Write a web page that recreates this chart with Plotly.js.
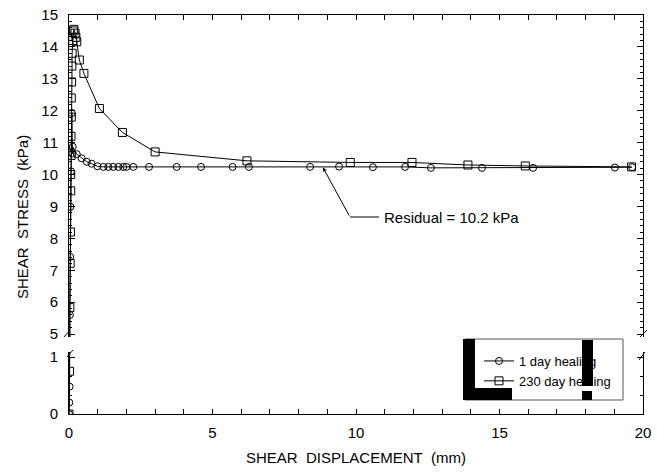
<!DOCTYPE html>
<html>
<head>
<meta charset="utf-8">
<script src="https://cdn.plot.ly/plotly-3.0.1.min.js"></script>
<style>html,body{margin:0;padding:0;background:#fff;}#chart{width:657px;height:476px;}</style>
</head>
<body>
<div id="chart"></div>
<script>
// ---- data ----
const day1Name = "1 day healing";
const day1X = [0, 0.01, 0.02, 0.03, 0.04, 0.05, 0.07, 0.1, 0.12, 0.13, 0.27, 0.44, 0.62, 0.79, 0.99,
  1.2, 1.37, 1.54, 1.72, 1.89, 2.0, 2.24, 2.79, 3.75, 4.6, 5.7, 6.27, 8.4, 9.41, 10.59, 11.71, 12.61,
  14.39, 16.17, 19.02, 19.62];
const day1Y = [0, 0.2, 0.48, 5.6, 7.42, 8.99, 10.1, 11.93, 10.66, 10.87, 10.64, 10.51, 10.4, 10.34, 10.26,
  10.24, 10.24, 10.24, 10.24, 10.24, 10.24, 10.24, 10.24, 10.24, 10.24, 10.24, 10.24, 10.24, 10.25, 10.23,
  10.24, 10.21, 10.21, 10.21, 10.22, 10.23];

const day230Name = "230 day healing";
const day230X = [0, 0.02, 0.03, 0.04, 0.05, 0.06, 0.06, 0.07, 0.07, 0.08, 0.08, 0.09, 0.1, 0.11, 0.13,
  0.15, 0.17, 0.21, 0.24, 0.27, 0.36, 0.52, 1.06, 1.86, 3.0, 6.2, 9.8, 11.95, 13.9, 15.9, 19.6];
const day230Y = [0, 0.75, 5.83, 7.22, 8.2, 9.49, 10.0, 10.6, 11.2, 11.8, 12.4, 12.9, 13.4, 13.8, 14.2,
  14.5, 14.55, 14.43, 14.3, 14.16, 13.59, 13.17, 12.07, 11.32, 10.71, 10.43, 10.38, 10.38, 10.3, 10.27, 10.24];

const xTickVals = [0, 5, 10, 15, 20];
const yUpperTicks = [5, 6, 7, 8, 9, 10, 11, 12, 13, 14, 15];
const yLowerTicks = [0, 1];
const residualText = "Residual = 10.2 kPa";
const xTitle = "SHEAR&nbsp;&nbsp;DISPLACEMENT&nbsp;&nbsp;(mm)";
const yTitle = "SHEAR&nbsp;&nbsp;STRESS&nbsp;&nbsp;(kPa)";

// ---- figure ----
const FONT = "Liberation Sans, Arial, sans-serif";
const circ = {symbol: "circle-open", size: 7, color: "#000", line: {width: 1, color: "#000"}};
const sq = {symbol: "square-open", size: 8, color: "#000", line: {width: 1, color: "#000"}};
const ln = {color: "#000", width: 1};

const traces = [
  {x: day1X, y: day1Y, name: day1Name, mode: "lines+markers", marker: circ, line: ln, xaxis: "x", yaxis: "y2", showlegend: true},
  {x: day230X, y: day230Y, name: day230Name, mode: "lines+markers", marker: sq, line: ln, xaxis: "x", yaxis: "y2", showlegend: true},
  {x: day1X, y: day1Y, name: day1Name, mode: "lines+markers", marker: circ, line: ln, xaxis: "x2", yaxis: "y", showlegend: false},
  {x: day230X, y: day230Y, name: day230Name, mode: "lines+markers", marker: sq, line: ln, xaxis: "x2", yaxis: "y", showlegend: false}
];

function P(px){return (px-69)/574;}
function Q(py){return (414-py)/399;}

const axCommon = {showline: true, linecolor: "#000", linewidth: 1, ticks: "inside", tickcolor: "#000",
  showgrid: false, zeroline: false, tickfont: {family: FONT, size: 15, color: "#000"}};

const layout = {
  width: 657, height: 476,
  margin: {l: 69, r: 14, t: 15, b: 62},
  paper_bgcolor: "#fff", plot_bgcolor: "rgba(0,0,0,0)",
  font: {family: FONT, color: "#000"},
  xaxis: Object.assign({}, axCommon, {anchor: "y2", range: [0, 20], tickvals: xTickVals, ticklen: 5,
    minor: {dtick: 1, ticklen: 5, ticks: "inside", tickcolor: "#000", showgrid: false},
    ticklabelstandoff: 5,
    title: {text: xTitle, font: {family: FONT, size: 15, color: "#000"}, standoff: 12}}),
  xaxis2: Object.assign({}, axCommon, {anchor: "y", side: "top", matches: "x", range: [0, 20], tickvals: xTickVals,
    showticklabels: false, ticklen: 5,
    minor: {dtick: 1, ticklen: 5, ticks: "inside", tickcolor: "#000", showgrid: false}}),
  yaxis: Object.assign({}, axCommon, {anchor: "x2", domain: [Q(337), 1], range: [4.91, 15], tickvals: yUpperTicks,
    mirror: "ticks", ticklen: 6, ticklabelstandoff: 7,
    minor: {dtick: 0.2, ticklen: 3, ticks: "inside", tickcolor: "#000", showgrid: false}}),
  yaxis2: Object.assign({}, axCommon, {anchor: "x", domain: [0, Q(352)], range: [0, 1.088], tickvals: yLowerTicks,
    mirror: "ticks", ticklen: 6, ticklabelstandoff: 7,
    minor: {tick0: 0, dtick: 1/3, ticklen: 3, ticks: "inside", tickcolor: "#000", showgrid: false}}),
  showlegend: true,
  legend: {x: P(479), y: Q(346), xanchor: "left", yanchor: "top", bgcolor: "rgba(0,0,0,0)", borderwidth: 0,
    font: {family: FONT, size: 13, color: "#000"}, tracegroupgap: 0, itemwidth: 30},
  annotations: [
    {xref: "paper", yref: "paper", x: (22-69)/574, y: Q(217), text: yTitle, textangle: -90, showarrow: false,
      font: {family: FONT, size: 15, color: "#000"}, xanchor: "center", yanchor: "middle"},
    {xref: "x2", yref: "y", x: 10.9, y: 8.67, text: residualText, showarrow: false, xanchor: "left", yanchor: "middle",
      font: {family: FONT, size: 15, color: "#000"}},
    {xref: "x2", yref: "y", x: 8.85, y: 10.22, axref: "x2", ayref: "y", ax: 9.79, ay: 8.67, text: "",
      showarrow: true, arrowhead: 2, arrowsize: 0.8, arrowwidth: 1, arrowcolor: "#000"}
  ],
  shapes: [
    {type: "line", xref: "x2", yref: "y", x0: 9.79, x1: 10.8, y0: 8.67, y1: 8.67, line: {color: "#000", width: 1}},
    // axis break marks
    {type: "line", xref: "paper", yref: "paper", x0: P(64), x1: P(70), y0: Q(337), y1: Q(330), line: {color: "#000", width: 1}},
    {type: "line", xref: "paper", yref: "paper", x0: P(67), x1: P(73), y0: Q(357), y1: Q(350), line: {color: "#000", width: 1}},
    {type: "line", xref: "paper", yref: "paper", x0: P(640), x1: P(647), y0: Q(337), y1: Q(330), line: {color: "#000", width: 1}},
    {type: "line", xref: "paper", yref: "paper", x0: P(639), x1: P(645), y0: Q(360), y1: Q(352), line: {color: "#000", width: 1}},
    // legend box
    {type: "rect", xref: "paper", yref: "paper", x0: P(465), x1: P(623), y0: Q(400), y1: Q(339),
      fillcolor: "#fff", line: {color: "#555", width: 1}, layer: "above"},
    // black scan marks over the legend
    {type: "rect", xref: "paper", yref: "paper", x0: P(463), x1: P(475), y0: Q(400), y1: Q(339), fillcolor: "#000", line: {width: 0}, layer: "above"},
    {type: "rect", xref: "paper", yref: "paper", x0: P(463), x1: P(512), y0: Q(400), y1: Q(388), fillcolor: "#000", line: {width: 0}, layer: "above"},
    {type: "rect", xref: "paper", yref: "paper", x0: P(582), x1: P(593), y0: Q(386), y1: Q(340), fillcolor: "#000", line: {width: 0}, layer: "above"},
    {type: "rect", xref: "paper", yref: "paper", x0: P(582), x1: P(592), y0: Q(400), y1: Q(391), fillcolor: "#000", line: {width: 0}, layer: "above"}
  ]
};

Plotly.newPlot("chart", traces, layout, {displayModeBar: false, staticPlot: true});
</script>
</body>
</html>
